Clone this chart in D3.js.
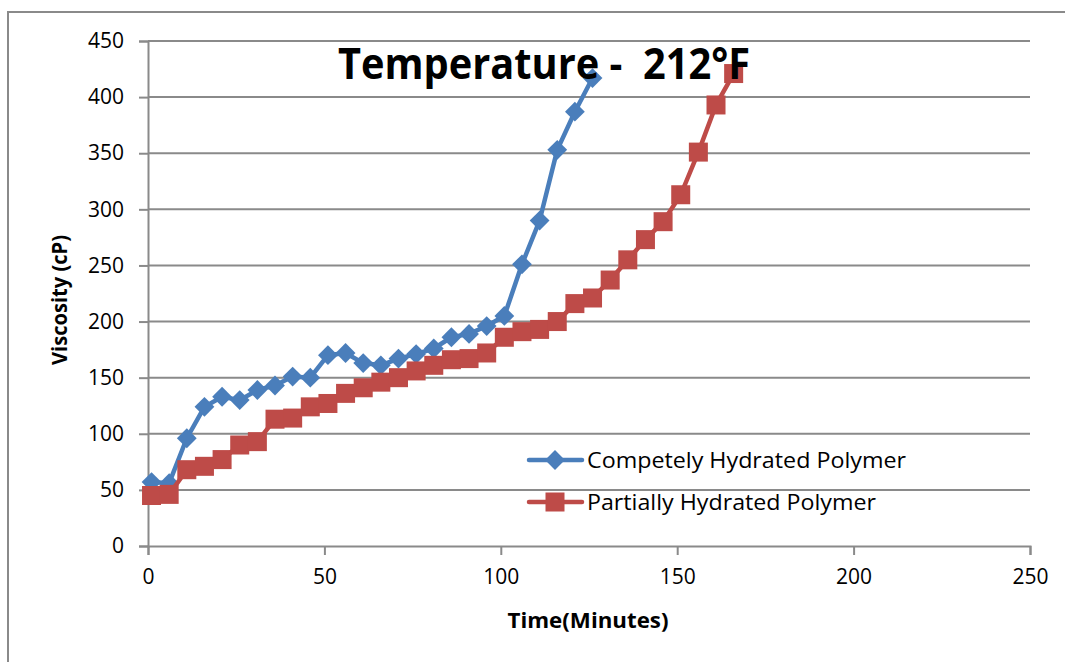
<!DOCTYPE html>
<html>
<head>
<meta charset="utf-8">
<script src="https://cdn.jsdelivr.net/npm/d3@7"></script>
<style>
  html, body { margin: 0; padding: 0; background: #fff; }
  svg { display: block; font-family: "Open Sans", "Liberation Sans", sans-serif; }
</style>
</head>
<body>
<svg id="chart" width="1065" height="662"></svg>
<script>
// Viscosity readings taken every 5 minutes at 212°F
const timeBlue = [1, 6, 11, 16, 21, 26, 31, 36, 41, 46, 51, 56, 61, 66, 71, 76, 81, 86, 91, 96, 101, 106, 111, 116, 121, 126];
const viscBlue = [57, 56, 96, 124, 133, 130, 139, 143, 151, 150, 170, 172, 163, 161, 167, 171, 176, 186, 189, 196, 205, 251, 290, 353, 387, 417];

const timeRed = [1, 6, 11, 16, 21, 26, 31, 36, 41, 46, 51, 56, 61, 66, 71, 76, 81, 86, 91, 96, 101, 106, 111, 116, 121, 126, 131, 136, 141, 146, 151, 156, 161, 166];
const viscRed = [45, 46, 68, 71, 77, 90, 93, 113, 114, 124, 127, 136, 141, 146, 150, 156, 161, 166, 167, 172, 186, 191, 193, 200, 216, 221, 237, 255, 273, 289, 313, 351, 393, 421];

const seriesNames = ["Competely Hydrated Polymer", "Partially Hydrated Polymer"];
const xTicks = [0, 50, 100, 150, 200, 250];
const yTicks = [0, 50, 100, 150, 200, 250, 300, 350, 400, 450];
const chartTitle = "Temperature -  212°F";
const xTitle = "Time(Minutes)";
const yTitle = "Viscosity (cP)";

const BLUE = "#4a7ebb", RED = "#be4b48", GRID = "#8a8a8a";

const svg = d3.select("#chart");

// outer chart frame
svg.append("rect")
  .attr("x", 8).attr("y", 12).attr("width", 1100).attr("height", 700)
  .attr("fill", "none").attr("stroke", GRID).attr("stroke-width", 2);

const x = d3.scaleLinear().domain([0, 250]).range([148, 1030]);
const y = d3.scaleLinear().domain([0, 450]).range([546, 41]);

// horizontal gridlines
svg.append("g").selectAll("line").data(yTicks.filter(d => d > 0)).join("line")
  .attr("x1", x(0)).attr("x2", x(250))
  .attr("y1", d => y(d)).attr("y2", d => y(d))
  .attr("stroke", GRID).attr("stroke-width", 2);

// y axis
const yAxis = svg.append("g")
  .attr("transform", `translate(${x(0)},0)`)
  .call(d3.axisLeft(y).tickValues(yTicks).tickSize(9).tickPadding(15));
yAxis.select(".domain").attr("stroke", GRID).attr("stroke-width", 2);
yAxis.selectAll(".tick line").attr("stroke", GRID).attr("stroke-width", 2);
yAxis.selectAll(".tick text").attr("font-size", 21).attr("fill", "#000")
  .attr("font-family", "'Open Sans', sans-serif");

// x axis
const xAxis = svg.append("g")
  .attr("transform", `translate(0,${y(0)})`)
  .call(d3.axisBottom(x).tickValues(xTicks).tickSize(9).tickPadding(14));
xAxis.select(".domain").attr("stroke", GRID).attr("stroke-width", 2);
xAxis.selectAll(".tick line").attr("stroke", GRID).attr("stroke-width", 2);
xAxis.selectAll(".tick text").attr("font-size", 21).attr("fill", "#000")
  .attr("font-family", "'Open Sans', sans-serif");

// axis titles
svg.append("text")
  .attr("x", 588).attr("y", 628)
  .attr("text-anchor", "middle").attr("font-weight", "bold").attr("font-size", 21)
  .attr("textLength", 161).attr("lengthAdjust", "spacingAndGlyphs")
  .text(xTitle);

svg.append("text")
  .attr("transform", "translate(67,300) rotate(-90)")
  .attr("text-anchor", "middle").attr("font-weight", "bold").attr("font-size", 21)
  .attr("textLength", 130).attr("lengthAdjust", "spacingAndGlyphs")
  .text(yTitle);

// series
const blueData = timeBlue.map((t, i) => [t, viscBlue[i]]);
const redData = timeRed.map((t, i) => [t, viscRed[i]]);
const line = d3.line().x(d => x(d[0])).y(d => y(d[1]));

const diamond = d3.symbol().type(d3.symbolDiamond2).size(250);
const square = 19;

svg.append("path").datum(blueData)
  .attr("d", line).attr("fill", "none").attr("stroke", BLUE)
  .attr("stroke-width", 4.5).attr("stroke-linejoin", "round");
svg.append("g").selectAll("path").data(blueData).join("path")
  .attr("transform", d => `translate(${x(d[0])},${y(d[1])})`)
  .attr("d", diamond).attr("fill", BLUE);

svg.append("path").datum(redData)
  .attr("d", line).attr("fill", "none").attr("stroke", RED)
  .attr("stroke-width", 4.5).attr("stroke-linejoin", "round");
svg.append("g").selectAll("rect").data(redData).join("rect")
  .attr("x", d => x(d[0]) - square / 2).attr("y", d => y(d[1]) - square / 2)
  .attr("width", square).attr("height", square).attr("fill", RED);

// chart title (keeps its double space)
svg.append("text")
  .attr("x", 544).attr("y", 79)
  .attr("text-anchor", "middle").attr("font-weight", "bold").attr("font-size", 43)
  .attr("font-family", "'Open Sans', sans-serif")
  .style("white-space", "pre")
  .attr("textLength", 412).attr("lengthAdjust", "spacingAndGlyphs")
  .text(chartTitle);

// legend
const legend = svg.append("g");
const legendRows = [
  { name: seriesNames[0], color: BLUE, cy: 460, mark: "diamond", len: 319 },
  { name: seriesNames[1], color: RED, cy: 502, mark: "square", len: 289 }
];
legendRows.forEach(r => {
  legend.append("line")
    .attr("x1", 529).attr("x2", 582).attr("y1", r.cy).attr("y2", r.cy)
    .attr("stroke", r.color).attr("stroke-width", 4.5).attr("stroke-linecap", "round");
  if (r.mark === "diamond") {
    legend.append("path").attr("transform", `translate(555,${r.cy})`)
      .attr("d", diamond).attr("fill", r.color);
  } else {
    legend.append("rect").attr("x", 555 - square / 2).attr("y", r.cy - square / 2)
      .attr("width", square).attr("height", square).attr("fill", r.color);
  }
  legend.append("text")
    .attr("x", 587).attr("y", r.cy + 8)
    .attr("font-size", 21).attr("fill", "#000")
    .attr("textLength", r.len).attr("lengthAdjust", "spacingAndGlyphs")
    .text(r.name);
});
</script>
</body>
</html>
